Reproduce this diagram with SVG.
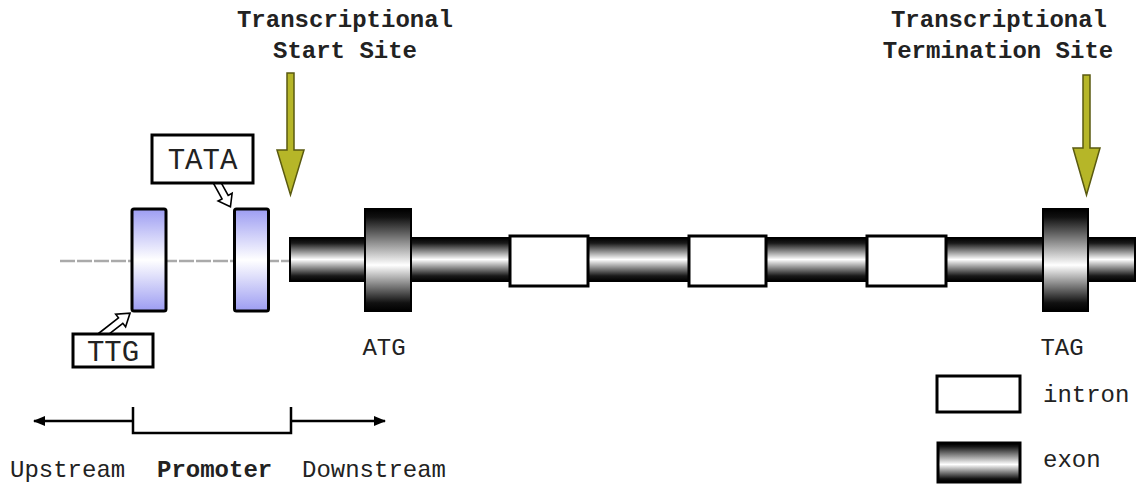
<svg xmlns="http://www.w3.org/2000/svg" width="1139" height="485" viewBox="0 0 1139 485">
<style>
  .lbl{font-family:"Liberation Mono","Courier New",monospace;font-size:24px;fill:#222}
  .b{font-weight:bold}
  .box{fill:#fff;stroke:#000;stroke-width:3}
  .bar{fill:url(#metal);stroke:#000;stroke-width:2}
  .exon{fill:url(#metal2);stroke:#000;stroke-width:2}
  .blue{fill:url(#bluegrad);stroke:#000;stroke-width:3}
  .olive{fill:#b6b628;stroke:#5a5a10;stroke-width:1.5;stroke-linejoin:miter}
  .hollow{fill:#fff;stroke:#000;stroke-width:1.6}
  .line{stroke:#000;stroke-width:2.5;fill:none}
</style>
<defs>
  <linearGradient id="metal" x1="0" y1="0" x2="0" y2="1">
    <stop offset="0" stop-color="#000"/>
    <stop offset="0.12" stop-color="#1a1a1a"/>
    <stop offset="0.5" stop-color="#fff"/>
    <stop offset="0.88" stop-color="#1a1a1a"/>
    <stop offset="1" stop-color="#000"/>
  </linearGradient>
  <linearGradient id="metal2" x1="0" y1="0" x2="0" y2="1">
    <stop offset="0" stop-color="#000"/>
    <stop offset="0.08" stop-color="#111"/>
    <stop offset="0.55" stop-color="#fff"/>
    <stop offset="0.92" stop-color="#111"/>
    <stop offset="1" stop-color="#000"/>
  </linearGradient>
  <linearGradient id="bluegrad" x1="0" y1="0" x2="0" y2="1">
    <stop offset="0" stop-color="#9c9cf2"/>
    <stop offset="0.5" stop-color="#fff"/>
    <stop offset="1" stop-color="#9c9cf2"/>
  </linearGradient>
  <marker id="ah" viewBox="0 0 10 10" refX="9" refY="5" markerWidth="5" markerHeight="5" orient="auto-start-reverse">
    <path d="M0,1 L10,5 L0,9 Z" fill="#000"/>
  </marker>
</defs>

<g id="connectors">
  <line x1="60" y1="261" x2="290" y2="261" stroke="#aaa" stroke-width="2.5" stroke-dasharray="15,2"/>
  <line class="line" x1="132" y1="421" x2="34" y2="421" marker-end="url(#ah)"/>
  <polyline class="line" points="133,407 133,433 291,433 291,407"/>
  <line class="line" x1="291" y1="421" x2="385" y2="421" marker-end="url(#ah)"/>
  <polygon class="hollow" transform="translate(101,336) rotate(-38.2)" points="0,-3.5 25,-3.5 25,-8 37,0 25,8 25,3.5 0,3.5"/>
  <polygon class="hollow" transform="translate(214,177) rotate(61.1)" points="0,-3.5 23,-3.5 23,-8 34,0 23,8 23,3.5 0,3.5"/>
  <polygon class="olive" points="287,73 294,73 294,150 304,150 290.5,195 277,150 287,150"/>
  <polygon class="olive" points="1083,75 1090,75 1090,148 1100,148 1086.5,195 1073,148 1083,148"/>
</g>

<g id="title-start">
  <text class="lbl b" x="345" y="27" text-anchor="middle">Transcriptional</text>
  <text class="lbl b" x="345" y="58" text-anchor="middle">Start Site</text>
</g>
<g id="title-term">
  <text class="lbl b" x="999" y="27" text-anchor="middle">Transcriptional</text>
  <text class="lbl b" x="998" y="58" text-anchor="middle">Termination Site</text>
</g>

<g id="ttg-element"><rect class="blue" x="132" y="209" width="34" height="102" rx="2"/></g>
<g id="tata-element"><rect class="blue" x="234.5" y="209" width="34" height="102" rx="2"/></g>

<g id="tata-label">
  <rect class="box" x="152" y="135" width="101" height="48"/>
  <text class="lbl" x="202.5" y="169" text-anchor="middle" style="font-size:29px">TATA</text>
</g>
<g id="ttg-label">
  <rect class="box" x="73" y="334" width="80" height="33"/>
  <text class="lbl" x="113" y="361" text-anchor="middle" style="font-size:29px">TTG</text>
</g>

<g id="gene-bar"><rect class="bar" x="290" y="238" width="845" height="43"/></g>
<g id="exon-atg"><rect class="exon" x="365" y="209" width="46" height="102"/></g>
<g id="intron-1"><rect class="box" x="510" y="236" width="78" height="50"/></g>
<g id="intron-2"><rect class="box" x="689" y="236" width="77" height="50"/></g>
<g id="intron-3"><rect class="box" x="867" y="236" width="79" height="50"/></g>
<g id="exon-tag"><rect class="exon" x="1043" y="209" width="45" height="102"/></g>

<g id="atg-label"><text class="lbl" x="384" y="355" text-anchor="middle">ATG</text></g>
<g id="tag-label"><text class="lbl" x="1062" y="355" text-anchor="middle">TAG</text></g>

<g id="legend-intron">
  <rect class="box" x="937" y="376" width="83" height="36"/>
  <text class="lbl" x="1043" y="402">intron</text>
</g>
<g id="legend-exon">
  <rect class="exon" x="938" y="443" width="82" height="39" style="stroke-width:3"/>
  <text class="lbl" x="1043" y="467">exon</text>
</g>

<g id="region-labels">
  <text class="lbl" x="10" y="477">Upstream</text>
  <text class="lbl b" x="157" y="477">Promoter</text>
  <text class="lbl" x="302" y="477">Downstream</text>
</g>
</svg>
